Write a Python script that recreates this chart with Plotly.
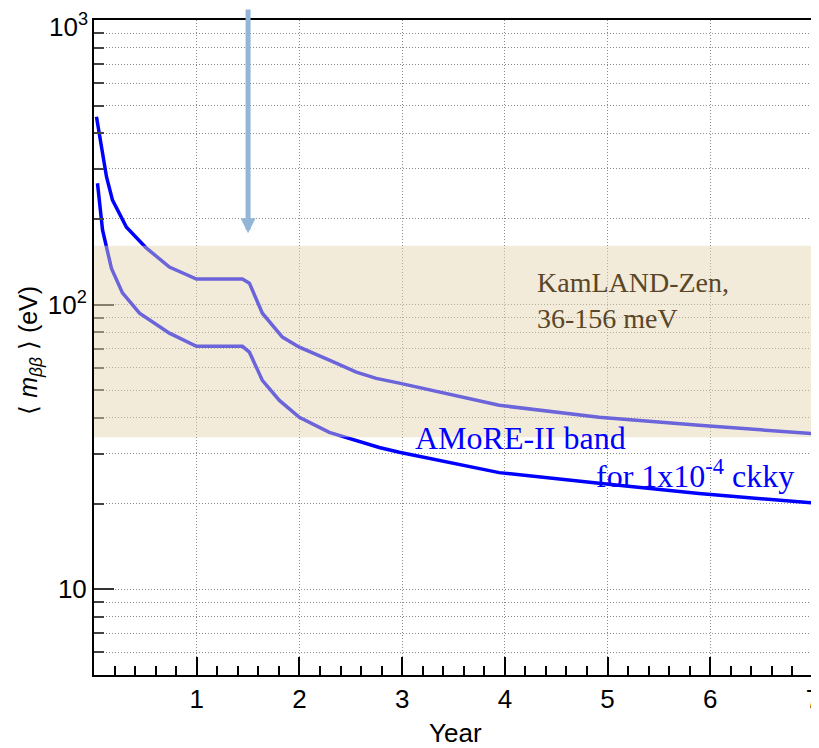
import math
import plotly.graph_objects as go

# ---- data ----
years_upper = [0.024, 0.122, 0.18, 0.316, 0.511, 0.734, 0.997, 1.445, 1.513, 1.639,
               1.834, 1.999, 2.291, 2.554, 2.748, 2.972, 3.945, 4.917, 5.89, 7.0]
mbb_upper = [457, 281, 233, 187, 158, 135.5, 123, 123, 119, 93.3,
             76.9, 70.9, 63.8, 57.9, 55.1, 53.0, 44.3, 40.2, 37.7, 35.2]

years_lower = [0.034, 0.083, 0.17, 0.277, 0.443, 0.734, 0.997, 1.445, 1.513, 1.639,
               1.805, 1.999, 2.291, 2.554, 2.777, 2.972, 3.945, 4.917, 5.89, 7.0]
mbb_lower = [267, 183, 134, 110, 93.3, 79.4, 71.4, 71.4, 68.1, 54.2,
             46.1, 40.2, 35.6, 33.4, 31.5, 30.3, 25.7, 23.6, 21.7, 20.1]

kamland_band = [34.2, 161]          # band limits
arrow_year = 1.5
arrow_tip = 178

x_ticks = [1, 2, 3, 4, 5, 6, 7]
y_ticks = [10, 100, 1000]
y_ticktext = ["10", "10<sup>2</sup>", "10<sup>3</sup>"]

fig = go.Figure()
for xs, ys in [(years_upper, mbb_upper), (years_lower, mbb_lower)]:
    fig.add_trace(go.Scatter(x=xs, y=ys, mode="lines",
                             line=dict(color="#0000FF", width=3.5),
                             showlegend=False, hoverinfo="skip"))

# KamLAND-Zen band drawn semi-transparent on top
fig.add_shape(type="rect", xref="x", yref="y", x0=0, x1=7,
              y0=kamland_band[0], y1=kamland_band[1],
              fillcolor="rgba(228,212,176,0.47)", line=dict(width=0),
              layer="above")

# arrow
fig.add_annotation(x=arrow_year, y=math.log10(arrow_tip),
                   xref="x", yref="y", text="", showarrow=True,
                   ax=0, ay=-228, arrowhead=2, arrowsize=0.6, arrowwidth=5,
                   arrowcolor="#93B6D6")

serif = "Liberation Serif, Times New Roman, serif"
fig.add_annotation(x=4.29, y=2.016, xref="x", yref="y",
                   text="KamLAND-Zen,<br>36-156 meV", showarrow=False,
                   xanchor="left", yanchor="middle", align="left",
                   font=dict(family=serif, size=28, color="#5A4628"))
fig.add_annotation(x=3.11, y=1.530, xref="x", yref="y",
                   text="AMoRE-II band", showarrow=False,
                   xanchor="left", yanchor="middle",
                   font=dict(family=serif, size=32, color="#0000FF"))
fig.add_annotation(x=4.87, y=1.404, xref="x", yref="y",
                   text="for 1x10<sup>-4</sup> ckky", showarrow=False,
                   xanchor="left", yanchor="middle",
                   font=dict(family=serif, size=32, color="#0000FF"))

sans = "Liberation Sans, Arial, Helvetica, sans-serif"
# top tick label placed as annotation so it sits just inside the page
fig.add_annotation(x=0, y=math.log10(y_ticks[-1]), xref="paper", yref="y",
                   text=y_ticktext[-1], showarrow=False,
                   xanchor="right", yanchor="middle", xshift=-4, yshift=-5,
                   font=dict(family=sans, size=26, color="black"))
# axis titles
fig.add_annotation(x=-0.089, y=0.495, xref="paper", yref="paper",
                   text="⟨ <i>m</i><sub><i>ββ</i></sub> ⟩ (eV)", showarrow=False,
                   textangle=-90, xanchor="center", yanchor="middle",
                   font=dict(family=sans, size=25, color="black"))
fig.add_annotation(x=0.503, y=-0.0885, xref="paper", yref="paper",
                   text="Year", showarrow=False,
                   xanchor="center", yanchor="middle",
                   font=dict(family=sans, size=26, color="black"))

grid_dash = "1px,2px"
fig.update_xaxes(range=[0, 7], tickvals=x_ticks, ticks="inside", ticklen=18,
                 tickwidth=2, tickcolor="black", showline=True, linewidth=2,
                 linecolor="black", mirror=True, showgrid=True,
                 gridcolor="#8a8a8a", gridwidth=1, griddash=grid_dash,
                 zeroline=False, automargin=False, ticklabeloverflow="allow",
                 minor=dict(dtick=0.2, ticks="inside", ticklen=9, tickwidth=2,
                            tickcolor="black", showgrid=False),
                 tickfont=dict(family=sans, size=26, color="black"))
fig.update_yaxes(type="log", range=[0.699, 3.0], tickvals=y_ticks,
                 ticktext=y_ticktext[:-1] + [""], ticks="inside", ticklen=20,
                 tickwidth=2, tickcolor="#333333", showline=True, linewidth=2,
                 linecolor="black", mirror=True, showgrid=True,
                 gridcolor="#8a8a8a", gridwidth=1, griddash=grid_dash,
                 zeroline=False, automargin=False, ticklabeloverflow="allow",
                 minor=dict(dtick="D1", ticks="inside", ticklen=10, tickwidth=2,
                            tickcolor="#444444", showgrid=True, gridcolor="#8a8a8a",
                            gridwidth=1, griddash=grid_dash),
                 tickfont=dict(family=sans, size=26, color="black"))

# the page body adds an 8px offset, so the figure is 8px smaller on each axis
fig.update_layout(width=811, height=740,
                  margin=dict(l=86, r=6, t=12, b=73),
                  paper_bgcolor="white", plot_bgcolor="white",
                  font=dict(family=sans))

fig.write_html("out.html")
